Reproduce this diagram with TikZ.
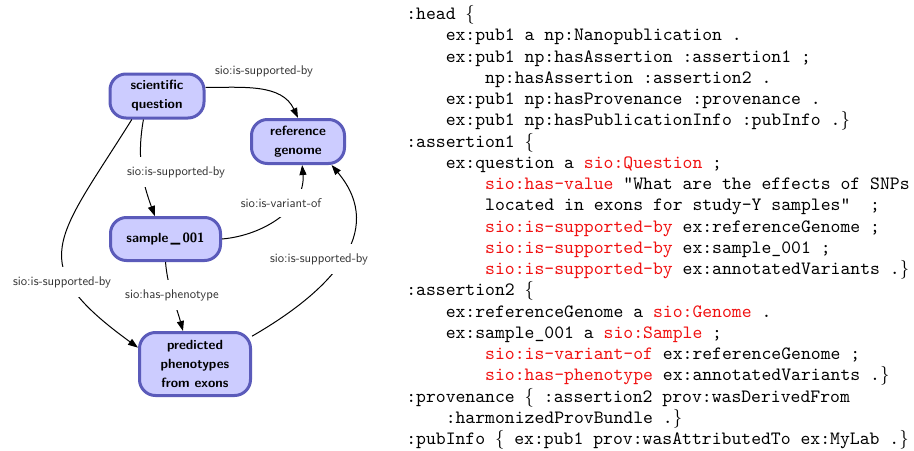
\documentclass[tikz,border=0pt]{standalone}
\usepackage{tikz}
\usepackage{graphicx}
\usepackage{color}
\usetikzlibrary{arrows.meta}
\definecolor{nodefill}{HTML}{CCCCFF}
\definecolor{nodeline}{HTML}{5B5BBA}
\definecolor{sioRed}{HTML}{F01010}
\definecolor{lblgray}{HTML}{333333}
\newcommand{\siot}[1]{\textcolor{sioRed}{#1}}
\newcommand{\tabin}{\hspace*{2.1em}}
\begin{document}
\begin{tikzpicture}[x=7.5pt,y=7.5pt]
\tikzstyle{every node}+=[inner sep=0pt]
\tikzstyle{concept}=[draw=nodeline, fill=nodefill, line width=2.25pt, rounded corners=12pt, align=center, font=\fontsize{10}{14.25}\selectfont\sffamily\bfseries]
\tikzstyle{rel}=[fill=white, inner xsep=1pt, inner ysep=7pt, text=lblgray, font=\fontsize{9.5}{11}\selectfont\sffamily]
\tikzstyle{link}=[black, line width=0.75pt, -{Triangle[length=7.5pt,width=5.25pt]}]
\useasboundingbox (0,0) rectangle (91.4,-45);
\node [concept, minimum width=70.5pt, minimum height=33pt] (question) at (15.7,-9.6) {scientific\\question};
\node [concept, minimum width=69.75pt, minimum height=33pt] (genome) at (29.8,-14.15) {reference\\genome};
\node [concept, minimum width=82.5pt, minimum height=32.25pt] (sample) at (16.55,-23.9) {sample\,\_\,001};
\node [concept, minimum width=83.25pt, minimum height=47.25pt] (pheno) at (19.5,-36.4) {predicted\\phenotypes\\from exons};
\draw [link] (question.10) to [out=0, in=115] (genome.north);
\draw [link] (question.-120) to [out=-100, in=110] (sample.115);
\draw [link] (sample.east) to [out=5, in=-85] (genome.-80);
\draw [link] (question.-137) to [out=-122, in=144, looseness=1.6] (pheno.164);
\draw [link] (sample.south) to [out=-85, in=105] (pheno.110);
\draw [link] (pheno.26) to [out=30, in=-50, looseness=1.2] (genome.-35);
\node [rel] (supGenome) at (26.4,-7.1) {sio:is-supported-by};
\node [rel] (supSample) at (17.6,-17.2) {sio:is-supported-by};
\node [rel] (variant) at (28.1,-20.3) {sio:is-variant-of};
\node [rel] (supPheno) at (6.2,-28.2) {sio:is-supported-by};
\node [rel] (hasPheno) at (17.2,-29.5) {sio:has-phenotype};
\node [rel] (supRef) at (31.9,-25.9) {sio:is-supported-by};
\node [anchor=north west] (turtle) at (40.6,-0.46) {\scalebox{1.41}{\fontsize{10}{11.3}\selectfont\ttfamily
\begin{tabular}{@{}l@{}}
:head $\{$\\
\tabin ex:pub1 a np:Nanopublication .\\
\tabin ex:pub1 np:hasAssertion :assertion1 ;\\
\tabin\tabin np:hasAssertion :assertion2 .\\
\tabin ex:pub1 np:hasProvenance :provenance .\\
\tabin ex:pub1 np:hasPublicationInfo :pubInfo .$\}$\\
:assertion1 $\{$\\
\tabin ex:question a \siot{sio:Question} ;\\
\tabin\tabin \siot{sio:has-value} "What are the effects of SNPs\\
\tabin\tabin located in exons for study-Y samples"\ \ ;\\
\tabin\tabin \siot{sio:is-supported-by} ex:referenceGenome ;\\
\tabin\tabin \siot{sio:is-supported-by} ex:sample\_001 ;\\
\tabin\tabin \siot{sio:is-supported-by} ex:annotatedVariants .$\}$\\
:assertion2 $\{$\\
\tabin ex:referenceGenome a \siot{sio:Genome} .\\
\tabin ex:sample\_001 a \siot{sio:Sample} ;\\
\tabin\tabin \siot{sio:is-variant-of} ex:referenceGenome ;\\
\tabin\tabin \siot{sio:has-phenotype} ex:annotatedVariants .$\}$\\
:provenance $\{$ :assertion2 prov:wasDerivedFrom\\
\tabin :harmonizedProvBundle .$\}$\\
:pubInfo $\{$ ex:pub1 prov:wasAttributedTo ex:MyLab .$\}$
\end{tabular}}};
\end{tikzpicture}
\end{document}
